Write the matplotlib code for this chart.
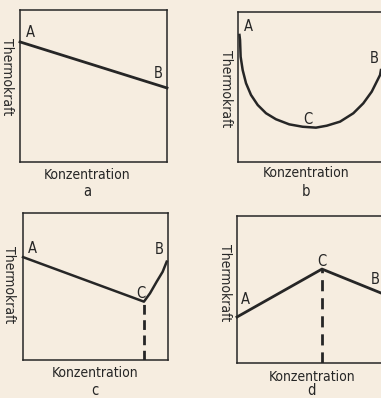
import matplotlib.pyplot as plt

# Thermokraft gegen Konzentration, vier Grundtypen (a-d)
W, H = 381, 398
BG = '#f6ede0'
INK = '#262626'
FONT = dict(family='DejaVu Sans', stretch='condensed', weight='medium')

# a: lineare Abnahme von A nach B
a_x = [0.0, 1.0]
a_y = [0.79, 0.487]

# b: Mischkristallreihe mit Minimum bei C
b_x = [0.010, 0.014, 0.018, 0.032, 0.055, 0.089, 0.135, 0.192, 0.260,
       0.351, 0.443, 0.534, 0.608, 0.699, 0.790, 0.858, 0.916, 0.973,
       0.979]
b_y = [0.847, 0.813, 0.702, 0.613, 0.525, 0.447, 0.380, 0.325, 0.285,
       0.251, 0.235, 0.229, 0.242, 0.269, 0.325, 0.391, 0.469, 0.580,
       0.613]

# c: Gerade bis C, danach Anstieg zu B
c_x = [0.0, 0.834, 0.876, 0.922, 0.963, 0.991]
c_y = [0.70, 0.397, 0.454, 0.533, 0.600, 0.669]
c_knick = 0.834

# d: Maximum bei C
d_x = [0.0, 0.578, 0.98]
d_y = [0.313, 0.639, 0.476]
d_knick = 0.578

# Rahmen in Pixeln: x0, y0, x1, y1
boxes = {
    'a': (20, 10, 167, 162),
    'b': (238, 12, 384, 162),
    'c': (23, 213, 168, 360),
    'd': (237, 216, 384, 363),
}

fig = plt.figure(figsize=(W / 100, H / 100), dpi=100)
fig.patch.set_facecolor(BG)


def panel(key):
    x0, y0, x1, y1 = boxes[key]
    ax = fig.add_axes([x0 / W, 1 - y1 / H, (x1 - x0) / W, (y1 - y0) / H])
    ax.set_facecolor(BG)
    ax.set_xlim(0, 1)
    ax.set_ylim(0, 1)
    ax.set_xticks([])
    ax.set_yticks([])
    for s in ax.spines.values():
        s.set_color(INK)
        s.set_linewidth(1.1)
    return ax


def beschriften(ax, xl, yl, ylab, buchst, bl):
    ax.text(xl, yl, 'Konzentration', transform=ax.transAxes, ha='center',
            va='center', fontsize=10, color=INK, **FONT)
    ax.text(xl, bl, buchst, transform=ax.transAxes, ha='center',
            va='center', fontsize=10.5, color=INK, **FONT)
    ax.text(ylab[0], ylab[1], 'Thermokraft', transform=ax.transAxes,
            rotation=270, ha='center', va='center', fontsize=10,
            color=INK, **FONT)


def punkt(ax, x, y, s):
    ax.text(x, y, s, ha='center', va='center', fontsize=10.5, color=INK,
            **FONT)


ax = panel('a')
ax.plot(a_x, a_y, color=INK, lw=2.0, clip_on=False)
punkt(ax, 0.068, 0.85, 'A')
punkt(ax, 0.94, 0.58, 'B')
beschriften(ax, 0.456, -0.085, (-0.088, 0.56), 'a', -0.195)

ax = panel('b')
ax.plot(b_x, b_y, color=INK, lw=1.8, clip_on=False)
punkt(ax, 0.07, 0.90, 'A')
punkt(ax, 0.93, 0.69, 'B')
punkt(ax, 0.48, 0.28, 'C')
beschriften(ax, 0.466, -0.075, (-0.082, 0.49), 'b', -0.2)

ax = panel('c')
ax.plot(c_x, c_y, color=INK, lw=1.8, clip_on=False)
ax.plot([c_knick, c_knick], [0, c_y[1]], color=INK, lw=2.0,
        dashes=(3.5, 2))
punkt(ax, 0.064, 0.76, 'A')
punkt(ax, 0.94, 0.75, 'B')
punkt(ax, 0.81, 0.45, 'C')
beschriften(ax, 0.497, -0.09, (-0.097, 0.51), 'c', -0.205)

ax = panel('d')
ax.plot(d_x, d_y, color=INK, lw=2.0, clip_on=False)
ax.plot([d_knick, d_knick], [0, d_y[1]], color=INK, lw=2.0,
        dashes=(4, 2.5))
punkt(ax, 0.054, 0.43, 'A')
punkt(ax, 0.576, 0.69, 'C')
punkt(ax, 0.94, 0.565, 'B')
beschriften(ax, 0.51, -0.095, (-0.082, 0.55), 'd', -0.19)

fig.savefig('out.png', dpi=100, facecolor=BG)
